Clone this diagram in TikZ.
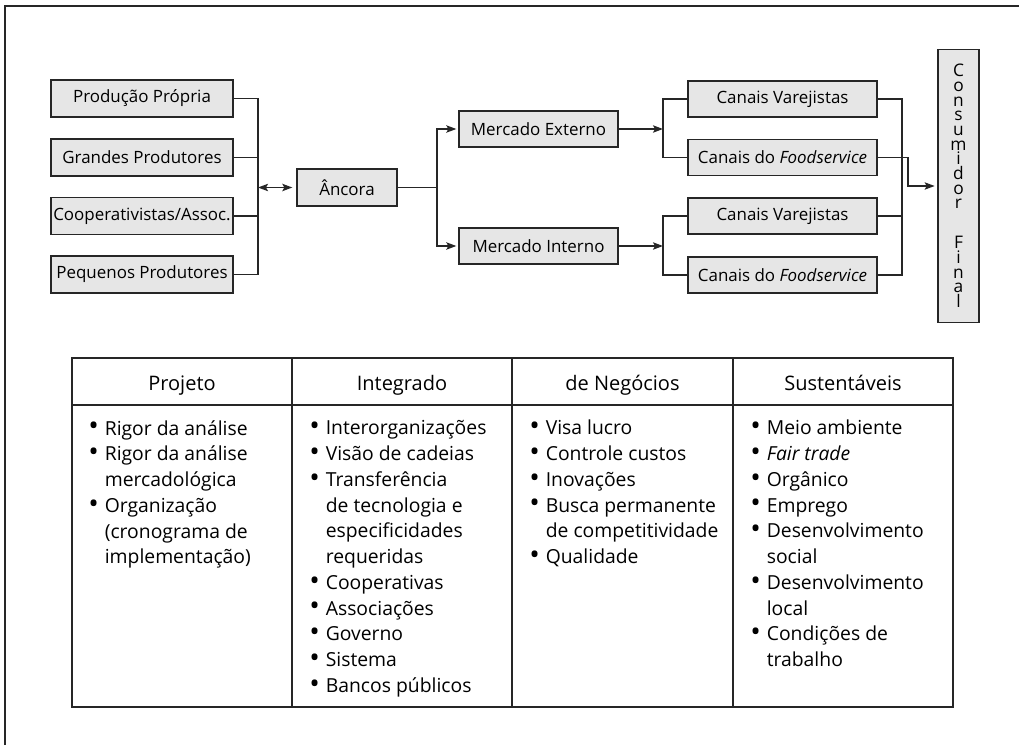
\documentclass[tikz,border=0pt]{standalone}
\usepackage{fontspec}
\usepackage{graphicx}
\setmainfont{Open Sans}
\usetikzlibrary{arrows.meta}
\definecolor{boxfill}{HTML}{E6E6E6}
\definecolor{ink}{HTML}{262626}
\newcommand\bl{\makebox[12.4pt][l]{\raisebox{-0.6pt}{\scalebox{1.45}{\textbullet}}}}
\newcommand\ct{\hspace*{12.4pt}}
\newcommand\firstline{\rule{0pt}{11pt}}
\tikzset{
  box/.style={draw=ink, fill=boxfill, line width=1pt, inner sep=0pt,
    minimum height=27.75pt, font=\fontsize{12.7}{15}\selectfont, text=black},
  link/.style={draw=ink, line width=1.1pt},
  tip/.tip={Stealth[length=7.5pt,width=5.5pt,inset=1.5pt]},
  arr/.style={link, -tip},
  tbl/.style={draw=ink, line width=1.1pt},
  head/.style={anchor=base, font=\fontsize{15}{17}\selectfont, text=black},
  body/.style={anchor=north west, align=left, inner sep=0pt,
    font=\fontsize{14.5}{19.3}\selectfont, text=black},
}
\begin{document}
\begin{tikzpicture}[x=0.75pt,y=-0.75pt]
\useasboundingbox (0,0) rectangle (1019,745);
% outer frame
\draw[link, line width=1.2pt] (5,745) -- (5,6) -- (1019,6);

% producers
\node[box, minimum width=136.5pt] (pp) at (142,98.5) {Produção Própria};
\node[box, minimum width=136.5pt] (gp) at (142,157.5) {Grandes Produtores};
\node[box, minimum width=136.5pt] (ca) at (142,216) {Cooperativistas/Assoc.};
\node[box, minimum width=136.5pt] (pe) at (142,274.5) {Pequenos Produtores};

% anchor firm
\node[box, minimum width=75pt] (anc) at (347,187.5) {Âncora};

% markets
\node[box, minimum width=119.25pt, minimum height=27pt] (me) at (538.5,129) {Mercado Externo};
\node[box, minimum width=119.25pt, minimum height=27pt] (mi) at (538.5,246) {Mercado Interno};

% channels
\node[box, minimum width=141.75pt, minimum height=27pt] (cv1) at (782.5,99) {Canais Varejistas};
\node[box, minimum width=141.75pt, minimum height=27pt] (cf1) at (782.5,157.5) {Canais do \textit{Foodservice}};
\node[box, minimum width=141.75pt, minimum height=27pt] (cv2) at (782.5,216) {Canais Varejistas};
\node[box, minimum width=141.75pt, minimum height=27pt] (cf2) at (782.5,275) {Canais do \textit{Foodservice}};

% final consumer
\node[box, minimum width=30.75pt, minimum height=204.75pt, align=center,
  font={\fontsize{13}{11}\selectfont\lineskiplimit=-20pt}] (cons) at (958.5,186)
  {C\\o\\n\\s\\u\\m\\i\\d\\o\\r\\[19pt]F\\i\\n\\a\\l};

% connectors: producers to anchor
\coordinate (bl) at (258,0);
\foreach \n in {pp,gp,ca,pe} \draw[link] (\n.east) -- (\n.east -| bl);
\draw[link] (pp.east -| bl) -- (pe.east -| bl);
\draw[link, tip-tip, shorten >=3pt] (anc.west -| bl) -- (anc.west);

% anchor to markets
\coordinate (bm) at (437,0);
\draw[link] (anc.east) -- (anc.east -| bm);
\draw[arr, shorten >=1.5pt] (anc.east -| bm) |- (me.west);
\draw[arr, shorten >=1.5pt] (anc.east -| bm) |- (mi.west);

% markets to channels
\coordinate (bc) at (663,0);
\draw[arr] (me.east) -- (me.east -| bc);
\draw[arr] (mi.east) -- (mi.east -| bc);
\draw[link] (cv1.west) -| (cf1.west -| bc) -- (cf1.west);
\draw[link] (cv2.west) -| (cf2.west -| bc) -- (cf2.west);

% channels to consumer
\coordinate (br) at (902,0);
\coordinate (bf) at (908,0);
\draw[link] (cv1.east) -| (cf2.east -| br) -- (cf2.east);
\draw[link] (cv2.east) -- (cv2.east -| br);
\draw[arr, shorten >=2pt] (cf1.east) -| (bf |- cons.west) -- (cons.west);

% table grid
\draw[tbl] (72,358) rectangle (953,707);
\draw[tbl] (72,405) -- (953,405);
\foreach \x in {292,512,733} \draw[tbl] (\x,358) -- (\x,707);

% table headers
\node[head] (h1) at (182,390) {Projeto};
\node[head] (h2) at (402,390) {Integrado};
\node[head] (h3) at (622.5,390) {de Negócios};
\node[head] (h4) at (843,390) {Sustentáveis};

% table bodies
\node[body] (b1) at (88,420) {\firstline\bl Rigor da análise\\ \bl Rigor da análise\\ \ct mercadológica\\ \bl Organização\\ \ct (cronograma de\\ \ct implementação)};
\node[body] (b2) at (309,420) {\firstline\bl Interorganizações\\ \bl Visão de cadeias\\ \bl Transferência\\ \ct de tecnologia e\\ \ct especificidades\\ \ct requeridas\\ \bl Cooperativas\\ \bl Associações\\ \bl Governo\\ \bl Sistema\\ \bl Bancos públicos};
\node[body] (b3) at (529,420) {\firstline\bl Visa lucro\\ \bl Controle custos\\ \bl Inovações\\ \bl Busca permanente\\ \ct de competitividade\\ \bl Qualidade};
\node[body] (b4) at (750,420) {\firstline\bl Meio ambiente\\ \bl \textit{Fair trade}\\ \bl Orgânico\\ \bl Emprego\\ \bl Desenvolvimento\\ \ct social\\ \bl Desenvolvimento\\ \ct local\\ \bl Condições de\\ \ct trabalho};
\end{tikzpicture}
\end{document}
